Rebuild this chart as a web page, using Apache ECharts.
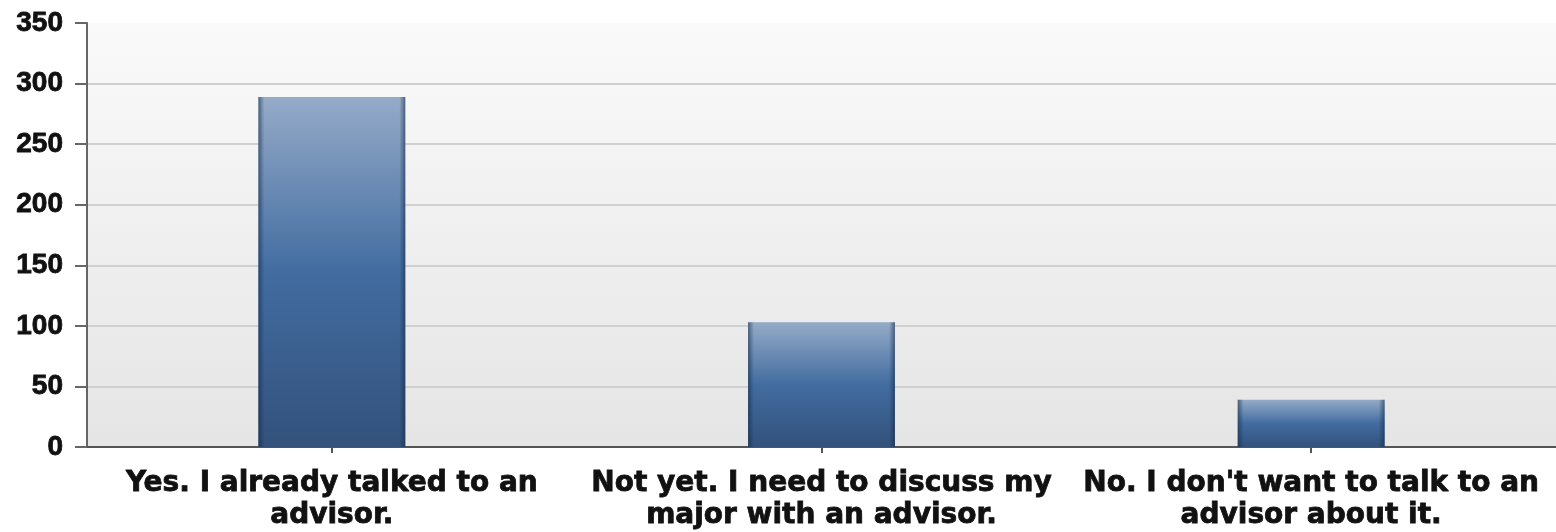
<!DOCTYPE html>
<html>
<head>
<meta charset="utf-8">
<script src="https://cdn.jsdelivr.net/npm/echarts@6/dist/echarts.min.js"></script>
<style>
  html, body { margin: 0; padding: 0; background: #ffffff; }
  #chart { width: 1556px; height: 532px; }
</style>
</head>
<body>
<div id="chart"></div>
<script>
const categories = [
  "Yes. I already talked to an\nadvisor.",
  "Not yet. I need to discuss my\nmajor with an advisor.",
  "No. I don't want to talk to an\nadvisor about it."
];
const responses = [289, 103, 39];
const yTicks = { min: 0, max: 350, interval: 50 };

const chart = echarts.init(document.getElementById('chart'), null, { renderer: 'canvas' });

const vertGrad = new echarts.graphic.LinearGradient(0, 0, 0, 1, [
  { offset: 0, color: '#a0b6d3' },
  { offset: 0.5, color: '#4672a8' },
  { offset: 1, color: '#355580' }
]);
const edgeGrad = new echarts.graphic.LinearGradient(0, 0, 1, 0, [
  { offset: 0, color: 'rgba(20,40,70,0.6)' },
  { offset: 0.04, color: 'rgba(20,40,70,0.08)' },
  { offset: 0.96, color: 'rgba(20,40,70,0.08)' },
  { offset: 1, color: 'rgba(20,40,70,0.6)' }
]);

chart.setOption({
  animation: false,
  grid: {
    left: 87, top: 23, width: 1479, bottom: 84,
    show: true,
    borderWidth: 0,
    backgroundColor: new echarts.graphic.LinearGradient(0, 0, 0, 1, [
      { offset: 0, color: '#fafafa' },
      { offset: 1, color: '#e5e5e5' }
    ])
  },
  xAxis: {
    type: 'category',
    data: categories,
    axisLine: { show: true, lineStyle: { color: '#555555', width: 2 } },
    axisTick: { show: true, alignWithLabel: true, length: 6, lineStyle: { color: '#555555', width: 2 } },
    axisLabel: {
      interval: 0,
      margin: 21,
      color: '#111111',
      fontFamily: 'DejaVu Sans, Verdana, sans-serif',
      fontWeight: 'bold',
      fontSize: 28,
      lineHeight: 32,
      align: 'center',
      textBorderColor: '#111111',
      textBorderWidth: 0.8
    }
  },
  yAxis: {
    type: 'value',
    min: yTicks.min, max: yTicks.max, interval: yTicks.interval,
    axisLine: { show: true, lineStyle: { color: '#666666', width: 2 } },
    axisTick: { show: true, length: 12, lineStyle: { color: '#666666', width: 2 } },
    axisLabel: {
      margin: 24,
      color: '#111111',
      fontFamily: 'Liberation Sans, Arial, sans-serif',
      fontWeight: 'bold',
      fontSize: 28,
      textBorderColor: '#111111',
      textBorderWidth: 0.8
    },
    splitLine: {
      show: true,
      lineStyle: {
        color: ['#d0d0d0', '#d0d0d0', '#d0d0d0', '#d0d0d0', '#d0d0d0', '#d0d0d0', '#d0d0d0', 'rgba(0,0,0,0)'],
        width: 2
      }
    }
  },
  series: [
    {
      type: 'bar',
      data: responses,
      barWidth: '30%',
      itemStyle: { color: vertGrad }
    },
    {
      type: 'bar',
      data: responses,
      barWidth: '30%',
      barGap: '-100%',
      silent: true,
      itemStyle: { color: edgeGrad }
    }
  ]
});
</script>
</body>
</html>
